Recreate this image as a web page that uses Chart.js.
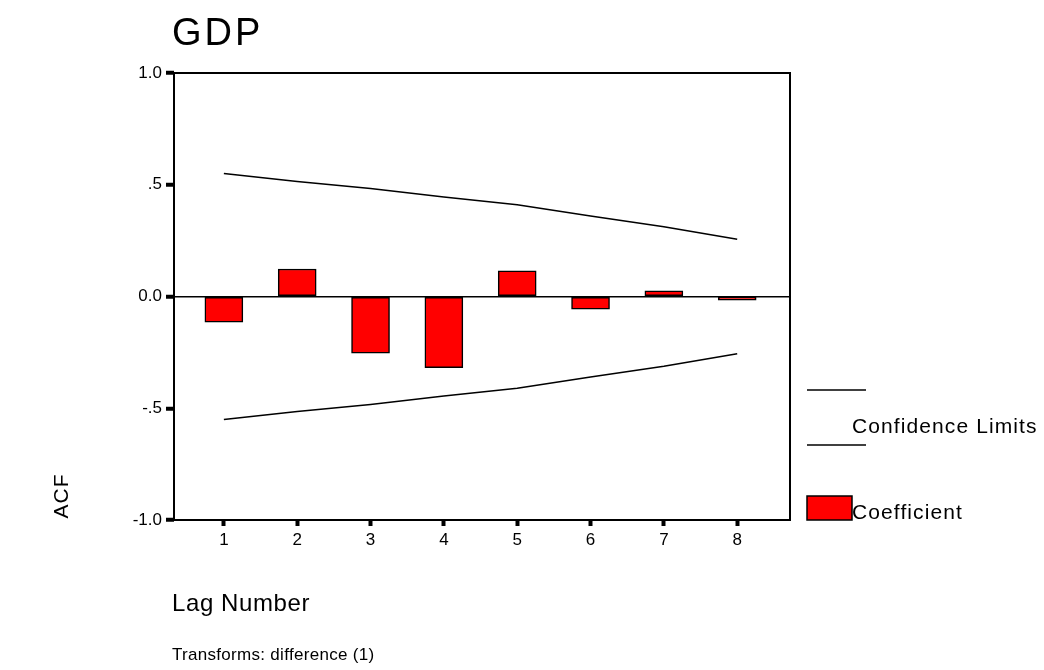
<!DOCTYPE html>
<html>
<head>
<meta charset="utf-8">
<title>GDP ACF</title>
<script src="https://cdn.jsdelivr.net/npm/chart.js@4/dist/chart.umd.min.js"></script>
<style>
  html, body { margin: 0; padding: 0; background: #ffffff; }
  #wrap { width: 1044px; height: 670px; }
</style>
</head>
<body>
<div id="wrap"><canvas id="acf" width="1044" height="670"></canvas></div>
<script>
// Autocorrelation of differenced GDP, lags 1..8
const lags = [1, 2, 3, 4, 5, 6, 7, 8];
const coefficients = [-0.115, 0.123, -0.254, -0.318, 0.115, -0.057, 0.025, -0.016];
const upperLimits = [0.55, 0.515, 0.483, 0.445, 0.411, 0.36, 0.312, 0.256];
const lowerLimits = [-0.55, -0.515, -0.483, -0.445, -0.411, -0.36, -0.312, -0.256];
const yTickValues = [-1, -0.5, 0, 0.5, 1];
const yTickLabels = ['-1.0', '-.5', '0.0', '.5', '1.0'];

const chartTitle = 'GDP';
const yAxisTitle = 'ACF';
const xAxisTitle = 'Lag Number';
const footnote = 'Transforms: difference (1)';

const FONT = '"Liberation Sans", Arial, Helvetica, sans-serif';
const RED = '#ff0000';

function toPoints(values) {
  return lags.map((lag, i) => ({ x: lag, y: values[i] }));
}

function drawText(ctx, text, x, y, size, spacing, align, baseline) {
  ctx.save();
  ctx.font = size + 'px ' + FONT;
  ctx.fillStyle = '#000';
  ctx.textAlign = align || 'left';
  ctx.textBaseline = baseline || 'alphabetic';
  if ('letterSpacing' in ctx) ctx.letterSpacing = (spacing || 0) + 'px';
  ctx.fillText(text, x, y);
  ctx.restore();
}

// Frame, titles, footnote and the side legend
const decorations = {
  id: 'decorations',
  afterDraw(chart) {
    const ctx = chart.ctx;
    const a = chart.chartArea;

    ctx.save();
    ctx.strokeStyle = '#000';
    ctx.lineWidth = 2;
    ctx.strokeRect(a.left, a.top, a.right - a.left, a.bottom - a.top);
    ctx.restore();

    drawText(ctx, chartTitle, 172, 45, 38, 3);
    drawText(ctx, xAxisTitle, 172, 611, 24, 0.6);
    drawText(ctx, footnote, 172, 660, 17, 0.3);

    ctx.save();
    ctx.translate(62, 496);
    ctx.rotate(-Math.PI / 2);
    drawText(ctx, yAxisTitle, 0, 0, 21, 1, 'center', 'middle');
    ctx.restore();

    // legend
    const ds = chart.data.datasets;
    const limitDs = ds[0];
    const barDs = ds[2];
    const lx = a.right + 17;
    ctx.save();
    ctx.strokeStyle = limitDs.borderColor;
    ctx.lineWidth = 1.5;
    [390, 445].forEach(y => {
      ctx.beginPath();
      ctx.moveTo(lx, y);
      ctx.lineTo(lx + 59, y);
      ctx.stroke();
    });
    ctx.fillStyle = barDs.backgroundColor;
    ctx.fillRect(lx, 496, 45, 24);
    ctx.strokeStyle = barDs.borderColor;
    ctx.lineWidth = 1.5;
    ctx.strokeRect(lx, 496, 45, 24);
    ctx.restore();
    drawText(ctx, limitDs.label, lx + 45, 433, 21, 1.1);
    drawText(ctx, barDs.label, lx + 45, 519, 21, 1.1);
  }
};

const lineStyle = {
  type: 'line',
  borderColor: '#000',
  borderWidth: 1.5,
  pointRadius: 0,
  fill: false,
  tension: 0
};

new Chart(document.getElementById('acf').getContext('2d'), {
  type: 'bar',
  data: {
    datasets: [
      Object.assign({ label: 'Confidence Limits', data: toPoints(upperLimits) }, lineStyle),
      Object.assign({ label: 'Confidence Limits', data: toPoints(lowerLimits) }, lineStyle),
      {
        type: 'bar',
        label: 'Coefficient',
        data: toPoints(coefficients),
        backgroundColor: RED,
        borderColor: '#000',
        borderWidth: 1.5,
        borderSkipped: false,
        barThickness: 38
      }
    ]
  },
  options: {
    responsive: false,
    animation: false,
    events: [],
    layout: { padding: { left: 0, top: 73, right: 254, bottom: 0 } },
    plugins: {
      legend: { display: false },
      title: { display: false },
      tooltip: { enabled: false }
    },
    scales: {
      x: {
        type: 'linear',
        min: 0.32,
        max: 8.72,
        offset: false,
        afterBuildTicks: s => { s.ticks = lags.map(v => ({ value: v })); },
        afterFit: s => { s.height = 150; },
        grid: {
          offset: false,
          drawOnChartArea: false,
          drawTicks: true,
          tickLength: 6,
          tickWidth: 4,
          tickColor: '#000'
        },
        border: { display: false },
        ticks: {
          color: '#000',
          font: { family: FONT, size: 17 },
          padding: 4,
          maxRotation: 0,
          callback: v => String(v)
        }
      },
      y: {
        min: -1,
        max: 1,
        afterBuildTicks: s => { s.ticks = yTickValues.map(v => ({ value: v })); },
        afterFit: s => { s.width = 174; },
        grid: {
          color: c => (c.tick && c.tick.value === 0) ? '#000' : 'rgba(0,0,0,0)',
          lineWidth: 1.5,
          drawTicks: true,
          tickLength: 8,
          tickWidth: 4,
          tickColor: '#000'
        },
        border: { display: false },
        ticks: {
          color: '#000',
          font: { family: FONT, size: 17 },
          padding: 4,
          callback: v => yTickLabels[yTickValues.indexOf(v)]
        }
      }
    }
  },
  plugins: [decorations]
});
</script>
</body>
</html>
